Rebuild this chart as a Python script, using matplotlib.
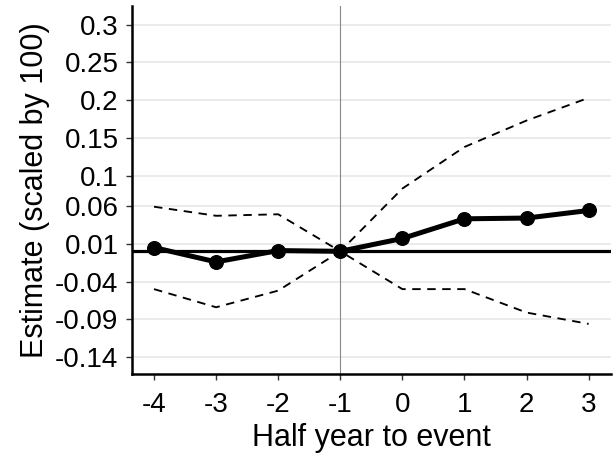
import matplotlib
matplotlib.use("Agg")
import matplotlib.pyplot as plt

plt.rcParams["font.family"] = ["Liberation Sans", "DejaVu Sans"]

periods = [-4, -3, -2, -1, 0, 1, 2, 3]
estimate = [0.005, -0.014, 0.001, 0.0, 0.017, 0.043, 0.044, 0.054]
ci_upper = [0.059, 0.047, 0.049, 0.0, 0.083, 0.138, 0.173, 0.203]
ci_lower = [-0.050, -0.074, -0.052, 0.0, -0.050, -0.050, -0.081, -0.096]

y_ticks = [-0.14, -0.09, -0.04, 0.01, 0.06, 0.1, 0.15, 0.2, 0.25, 0.3]
y_tick_labels = ["-0.14", "-0.09", "-0.04", "0.01", "0.06", "0.1", "0.15", "0.2", "0.25", "0.3"]

fig = plt.figure(figsize=(6.13, 4.54), dpi=100)
ax = fig.add_axes([0.2158, 0.1755, 0.7809, 0.8113])

for yt in y_ticks:
    ax.axhline(yt, color="#ebebeb", linewidth=1.4, zorder=0)

ax.axvline(-1, color="#888888", linewidth=0.8, zorder=1)
ax.axhline(0, color="black", linewidth=2.3, zorder=2)

ax.plot(periods, ci_upper, color="black", linestyle=(0, (4.5, 3.5)), linewidth=1.35, zorder=3)
ax.plot(periods, ci_lower, color="black", linestyle=(0, (4.5, 3.5)), linewidth=1.35, zorder=3)
ax.plot(periods, estimate, color="black", linewidth=3.6, marker="o", markersize=9.8, zorder=4)

ax.set_xlim(-4.35, 3.36)
ax.set_ylim(-0.1627, 0.3245)
ax.set_xticks(periods)
ax.set_xticklabels([str(p) for p in periods])
ax.set_yticks(y_ticks)
ax.set_yticklabels(y_tick_labels)

for side in ["top", "right"]:
    ax.spines[side].set_visible(False)
for side in ["left", "bottom"]:
    ax.spines[side].set_linewidth(1.8)
    ax.spines[side].set_color("black")

ax.tick_params(axis="both", length=4.3, width=1, color="#333333", labelsize=20, labelcolor="black")
ax.tick_params(axis="x", pad=8.2)
ax.tick_params(axis="y", pad=5.6)
ax.set_xlabel("Half year to event", fontsize=22, labelpad=4)
ax.set_ylabel("Estimate (scaled by 100)", fontsize=22, labelpad=3.6)

fig.savefig("out.png", dpi=100)
